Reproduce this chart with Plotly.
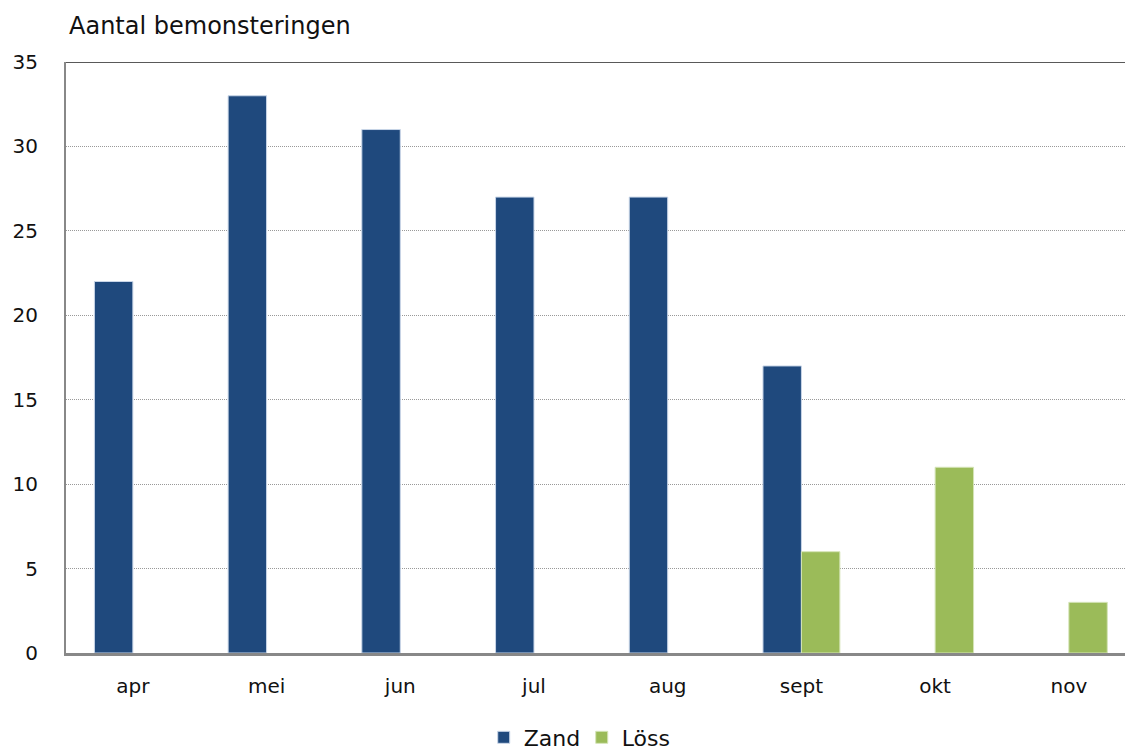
import plotly.graph_objects as go

months = ["apr", "mei", "jun", "jul", "aug", "sept", "okt", "nov"]
zand = [22, 33, 31, 27, 27, 17, None, None]
loss = [None, None, None, None, None, 6, 11, 3]
y_ticks = [0, 5, 10, 15, 20, 25, 30, 35]

FONT = "DejaVu Sans"

fig = go.Figure()
fig.add_trace(go.Bar(x=months, y=zand, name="Zand", marker=dict(color="#1F497D", line=dict(color="#C9D6E8", width=1))))
fig.add_trace(go.Bar(x=months, y=loss, name="Löss", marker=dict(color="#9BBB59", line=dict(color="#D5E4B8", width=1))))

fig.add_shape(type="line", xref="paper", yref="y", x0=0, x1=1, y0=35, y1=35,
              line=dict(color="#222222", width=1.5), layer="above")

fig.add_annotation(text="Aantal bemonsteringen", xref="paper", yref="paper",
                   x=0, y=1, xshift=1, yshift=20, xanchor="left", yanchor="bottom",
                   showarrow=False, font=dict(family=FONT, size=24, color="#111111"))

fig.update_layout(
    width=1125, height=751,
    margin=dict(l=66, r=0, t=62, b=98, autoexpand=False),
    paper_bgcolor="white", plot_bgcolor="white",
    barmode="group", bargap=0.425, bargroupgap=0,
    font=dict(family=FONT, size=20, color="#111111"),
    showlegend=True,
    legend=dict(orientation="h", x=0.487, xanchor="center", y=-0.143, yanchor="middle",
                font=dict(family=FONT, size=22), itemwidth=30, traceorder="normal",
                entrywidthmode="pixels", entrywidth=53),
    xaxis=dict(range=[-0.5, 7.42], showgrid=False, showline=True, linecolor="#888888", linewidth=3,
               ticks="", tickfont=dict(size=20), ticklabelstandoff=13, automargin=False),
    yaxis=dict(range=[0, 35], tickvals=y_ticks, showgrid=True, gridcolor="#999999",
               griddash="1px,1px", gridwidth=1, showline=True, linecolor="#888888", linewidth=2,
               zeroline=False, ticks="", tickfont=dict(size=20), ticklabelstandoff=22, automargin=False),
)

fig.write_html("out.html", config={"displayModeBar": False},
               post_script="document.body.style.margin='0';document.body.style.overflow='hidden';")
